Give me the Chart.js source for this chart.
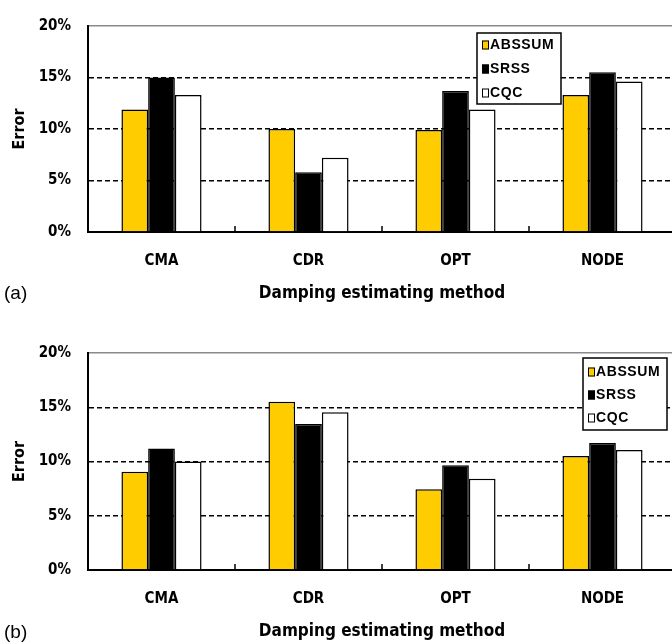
<!DOCTYPE html>
<html><head><meta charset="utf-8">
<script src="https://cdn.jsdelivr.net/npm/chart.js@4.4.1/dist/chart.umd.min.js"></script>
<style>
html,body{margin:0;padding:0;background:#fff;overflow:hidden;width:672px;height:642px;position:relative;}
.wrap{position:absolute;left:0;width:676px;}
#wa{top:0;height:320px;}
#wb{top:320px;height:322px;}
.tag{position:absolute;left:4px;font:19px 'Liberation Sans',Arial,sans-serif;color:#000;line-height:20px;}
</style></head><body>
<div class="wrap" id="wa"><canvas id="ca" width="676" height="320"></canvas></div>
<div class="wrap" id="wb"><canvas id="cb" width="676" height="322"></canvas></div>
<div class="tag" style="top:283px">(a)</div>
<div class="tag" style="top:622px">(b)</div>
<script>
const categories = ['CMA', 'CDR', 'OPT', 'NODE'];
const seriesNames = ['ABSSUM', 'SRSS', 'CQC'];
const seriesColors = ['#FFCC00', '#000000', '#FFFFFF'];
const yTickLabels = ['0%', '5%', '10%', '15%', '20%'];
const xTitle = 'Damping estimating method';
const yTitle = 'Error';

// (a)
const aAbssum = [11.9, 10.0, 9.9, 13.3];
const aSrss   = [15.0, 5.8, 13.7, 15.5];
const aCqc    = [13.3, 7.2, 11.9, 14.6];
// (b)
const bAbssum = [9.05, 15.5, 7.45, 10.5];
const bSrss   = [11.2, 13.45, 9.65, 11.7];
const bCqc    = [10.0, 14.55, 8.4, 11.05];

const NARROW = "'Liberation Sans Narrow','Arial Narrow','DejaVu Sans Condensed','Liberation Sans',sans-serif";

const boxLegend = {
  id: 'boxLegend',
  afterDraw(chart, args, o) {
    const ctx = chart.ctx, ca = chart.chartArea;
    const x = ca.left + o.dx, y = ca.top + o.dy;
    ctx.save();
    ctx.fillStyle = '#fff';
    ctx.fillRect(x, y, o.w, o.h);
    ctx.lineWidth = 1.5;
    ctx.strokeStyle = '#000';
    ctx.strokeRect(x, y, o.w, o.h);
    ctx.font = "bold 14px 'Liberation Sans', Arial, sans-serif";
    ctx.textBaseline = 'middle';
    ctx.textAlign = 'left';
    try { ctx.letterSpacing = '0.6px'; } catch (e) {}
    chart.data.datasets.forEach((ds, i) => {
      const cy = y + o.rowTop + i * o.rowGap;
      ctx.fillStyle = ds.backgroundColor;
      ctx.fillRect(x + 5, cy - 4.5, 7, 9);
      ctx.lineWidth = 1;
      ctx.strokeStyle = '#000';
      ctx.strokeRect(x + 5.5, cy - 4, 6, 8);
      ctx.fillStyle = '#000';
      ctx.fillText(ds.label, x + 13, cy + 0.5);
    });
    ctx.restore();
  }
};

const upTicks = {
  id: 'upTicks',
  afterDatasetsDraw(chart) {
    const xs = chart.scales.x, ctx = chart.ctx, b = chart.chartArea.bottom;
    ctx.save();
    ctx.strokeStyle = '#000';
    ctx.lineWidth = 1.5;
    for (let i = 1; i < categories.length; i++) {
      const px = (xs.getPixelForTick(i - 1) + xs.getPixelForTick(i)) / 2;
      ctx.beginPath();
      ctx.moveTo(px, b);
      ctx.lineTo(px, b - 6);
      ctx.stroke();
    }
    ctx.restore();
  }
};

function makeChart(id, vals, cfg) {
  const datasets = vals.map((v, i) => ({
    label: seriesNames[i],
    data: v,
    backgroundColor: seriesColors[i],
    borderColor: '#000',
    borderWidth: 1.5,
    categoryPercentage: 0.545,
    barPercentage: 1.0
  }));
  return new Chart(document.getElementById(id), {
    type: 'bar',
    data: { labels: categories, datasets },
    plugins: [boxLegend, upTicks],
    options: {
      responsive: false,
      animation: false,
      devicePixelRatio: 1,
      layout: { padding: { top: cfg.padTop, bottom: cfg.padBottom, left: 0, right: 0 } },
      plugins: {
        legend: { display: false },
        tooltip: { enabled: false },
        boxLegend: cfg.legend
      },
      scales: {
        x: {
          grid: { display: false, drawTicks: false },
          border: { display: true, color: '#000', width: 2 },
          ticks: { padding: 20, color: '#000', font: { family: NARROW, weight: 'bold', size: 15 } },
          title: { display: true, text: xTitle, color: '#000',
                   font: { family: NARROW, weight: 'bold', size: 17 }, padding: { top: 0, bottom: 0 } },
          afterFit: s => { s.height = 72; }
        },
        y: {
          min: 0, max: 20,
          ticks: { stepSize: 5, padding: 17, color: '#000',
                   font: { family: NARROW, weight: 'bold', size: 15 },
                   callback: (v, i) => yTickLabels[i] },
          grid: { drawTicks: false, lineWidth: 1.5,
                  color: c => c.tick.value === 0 ? 'rgba(0,0,0,0)' : (c.tick.value === 20 ? '#8a8a8a' : '#000') },
          border: { display: true, color: '#000', width: 2,
                    dash: c => (c.tick && c.tick.value === 20) ? [] : [5, 3] },
          title: { display: true, text: yTitle, color: '#000',
                   font: { family: NARROW, weight: 'bold', size: 16 }, padding: { top: 10, bottom: 0 } },
          afterFit: s => { s.width = 88; }
        }
      }
    }
  });
}

makeChart('ca', [aAbssum, aSrss, aCqc], {
  padTop: 16, padBottom: 16,
  legend: { dx: 389, dy: 7, w: 84, h: 71, rowTop: 12, rowGap: 24 }
});
makeChart('cb', [bAbssum, bSrss, bCqc], {
  padTop: 33, padBottom: 0,
  legend: { dx: 495, dy: 5, w: 84, h: 72, rowTop: 14, rowGap: 23 }
});
</script>
</body></html>
